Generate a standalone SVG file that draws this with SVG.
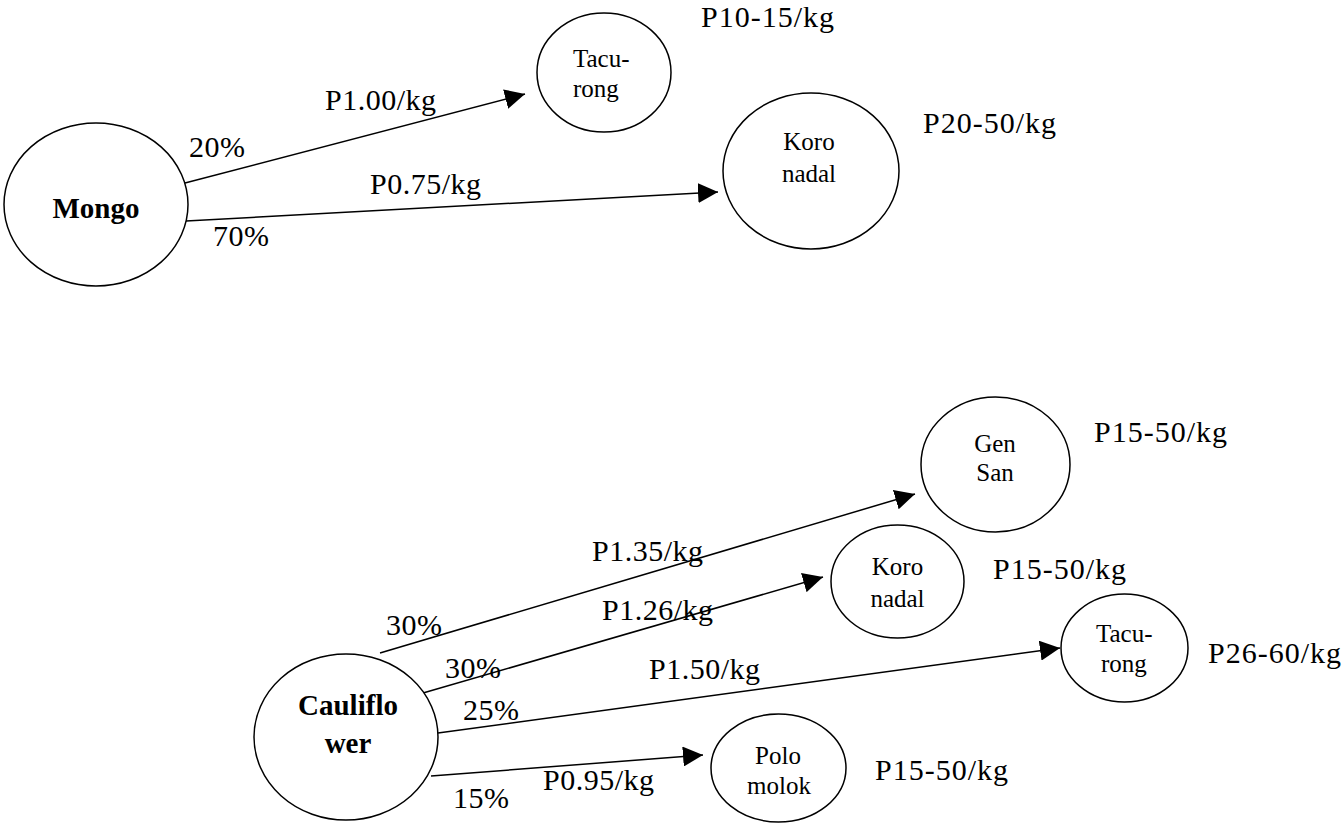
<svg xmlns="http://www.w3.org/2000/svg" width="1342" height="823" viewBox="0 0 1342 823">
<style>
.node{fill:#fff;stroke:#000;stroke-width:1.5}
.edge{stroke:#000;stroke-width:1.5;fill:none;marker-end:url(#arr)}
.nl{font-family:"Liberation Serif","Times New Roman",serif;font-size:25px;fill:#000}
.bl{font-family:"Liberation Serif","Times New Roman",serif;font-size:29px;font-weight:bold;fill:#000;text-anchor:middle}
.el{font-family:"Liberation Serif","Times New Roman",serif;font-size:30px;fill:#000;letter-spacing:0.5px}
.rl{font-family:"Liberation Serif","Times New Roman",serif;font-size:30px;fill:#000;letter-spacing:1px}
.c{text-anchor:middle}
</style>
<defs>
<marker id="arr" markerUnits="userSpaceOnUse" markerWidth="20" markerHeight="20" refX="20" refY="10" orient="auto" viewBox="0 0 20 20">
<path d="M0,0 L20,10 L0,20 Z" fill="#000"/>
</marker>
</defs>
<rect width="1342" height="823" fill="#fff"/>

<g id="connectors">
<line class="edge" x1="185" y1="183" x2="525" y2="94"/>
<line class="edge" x1="186" y1="221" x2="718" y2="192"/>
<line class="edge" x1="380" y1="653" x2="915" y2="494"/>
<line class="edge" x1="423" y1="693" x2="823" y2="577"/>
<line class="edge" x1="438" y1="733" x2="1060" y2="648"/>
<line class="edge" x1="431" y1="776" x2="703" y2="755"/>
</g>

<g id="mongo">
<ellipse class="node" cx="96" cy="204.5" rx="92" ry="81.5"/>
<text class="bl" x="96" y="218">Mongo</text>
</g>
<g id="tacurong1">
<ellipse class="node" cx="604" cy="72.5" rx="67" ry="59.5"/>
<text class="nl" x="573" y="67">Tacu-</text>
<text class="nl" x="573" y="97">rong</text>
</g>
<g id="koronadal1">
<ellipse class="node" cx="811" cy="171" rx="88" ry="78"/>
<text class="nl c" x="809" y="150">Koro</text>
<text class="nl c" x="809" y="182">nadal</text>
</g>
<g id="cauliflower">
<ellipse class="node" cx="346" cy="737" rx="92" ry="83"/>
<text class="bl" x="348" y="715">Cauliflo</text>
<text class="bl" x="348" y="753">wer</text>
</g>
<g id="gensan">
<ellipse class="node" cx="995.5" cy="464.5" rx="74.5" ry="67.5"/>
<text class="nl c" x="995" y="452">Gen</text>
<text class="nl c" x="995" y="481">San</text>
</g>
<g id="koronadal2">
<ellipse class="node" cx="897.5" cy="581.5" rx="66.5" ry="56.5"/>
<text class="nl c" x="897.5" y="575">Koro</text>
<text class="nl c" x="897.5" y="607">nadal</text>
</g>
<g id="tacurong2">
<ellipse class="node" cx="1124.5" cy="648" rx="63.5" ry="54"/>
<text class="nl" x="1096" y="642">Tacu-</text>
<text class="nl" x="1101" y="672">rong</text>
</g>
<g id="polomolok">
<ellipse class="node" cx="778.5" cy="768" rx="67.5" ry="54"/>
<text class="nl c" x="778" y="764">Polo</text>
<text class="nl c" x="779" y="794">molok</text>
</g>

<g id="labels">
<text class="el" x="189" y="157">20%</text>
<text class="el" x="325" y="110">P1.00/kg</text>
<text class="el" x="370" y="194">P0.75/kg</text>
<text class="el" x="213" y="246">70%</text>
<text class="rl" x="701" y="27">P10-15/kg</text>
<text class="rl" x="923" y="133">P20-50/kg</text>
<text class="rl" x="1094" y="442">P15-50/kg</text>
<text class="rl" x="993" y="579">P15-50/kg</text>
<text class="rl" x="1208" y="663">P26-60/kg</text>
<text class="rl" x="875" y="780">P15-50/kg</text>
<text class="el" x="386" y="635">30%</text>
<text class="el" x="592" y="561">P1.35/kg</text>
<text class="el" x="445" y="678">30%</text>
<text class="el" x="602" y="620">P1.26/kg</text>
<text class="el" x="463" y="720">25%</text>
<text class="el" x="649" y="679">P1.50/kg</text>
<text class="el" x="543" y="790">P0.95/kg</text>
<text class="el" x="453" y="808">15%</text>
</g>
</svg>
